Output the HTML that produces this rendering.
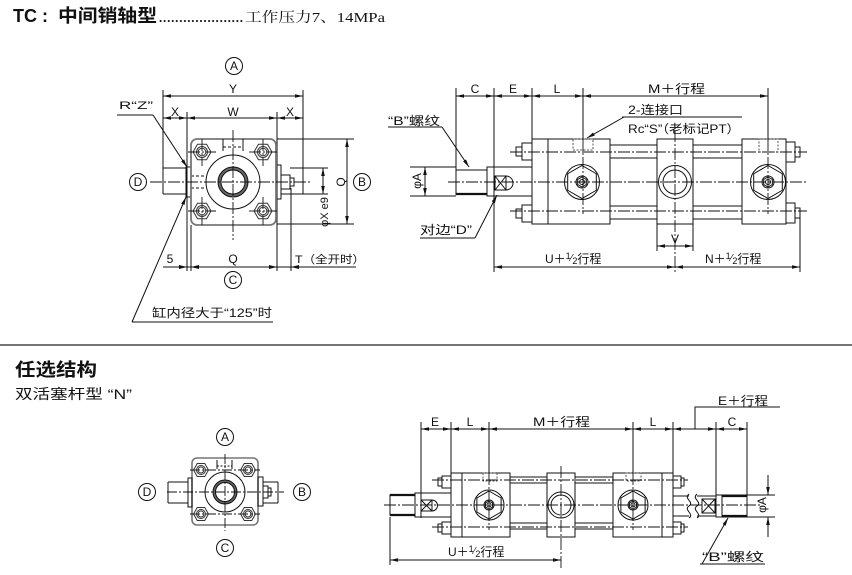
<!DOCTYPE html>
<html><head><meta charset="utf-8"><style>
html,body{margin:0;padding:0;background:#fff;}
svg{display:block;}
text{font-family:"Liberation Sans","Noto Sans CJK SC",sans-serif;fill:#111;stroke:none;}
.sf{font-family:"Liberation Serif","Noto Serif CJK SC",serif;}
</style></head><body>
<svg width="852" height="575" viewBox="0 0 852 575" xmlns="http://www.w3.org/2000/svg">
<defs>
<marker id="ar" viewBox="0 0 8 4" refX="8" refY="2" markerWidth="8" markerHeight="4" markerUnits="userSpaceOnUse" orient="auto-start-reverse"><path d="M0,0.2 L8,2 L0,3.8z" fill="#111"/></marker>
<g id="hx9" fill="none" stroke="#333"><polygon points="9,0 4.5,7.8 -4.5,7.8 -9,0 -4.5,-7.8 4.5,-7.8"/><circle r="5.5"/><circle r="3.8"/></g>
<g id="hx7" fill="none" stroke="#333"><polygon points="7.5,0 3.75,6.5 -3.75,6.5 -7.5,0 -3.75,-6.5 3.75,-6.5"/><circle r="4.5"/><circle r="3"/></g>
<g id="hxL" fill="none" stroke="#111"><circle r="17.5"/><polygon points="0,-16.5 14.3,-8.25 14.3,8.25 0,16.5 -14.3,8.25 -14.3,-8.25"/><circle r="6"/><polygon points="0,-5 4.33,-2.5 4.33,2.5 0,5 -4.33,2.5 -4.33,-2.5"/><circle r="2.5"/></g>
<g id="hxS" fill="none" stroke="#111"><circle r="15"/><polygon points="0,-14 12.12,-7 12.12,7 0,14 -12.12,7 -12.12,-7"/><circle r="5"/><polygon points="0,-4 3.46,-2 3.46,2 0,4 -3.46,2 -3.46,-2"/><circle r="2"/></g>
</defs>
<rect width="852" height="575" fill="#fff"/>

<!-- TITLE -->
<text x="13" y="22" font-size="18" font-weight="bold">TC</text>
<text x="42" y="22" font-size="18" font-weight="bold">:</text>
<text x="58" y="22" font-size="18" font-weight="bold" textLength="99" lengthAdjust="spacingAndGlyphs">中间销轴型</text>
<text x="159" y="22" font-size="13" font-weight="bold" style="font-family:'Liberation Serif',serif" textLength="84" lengthAdjust="spacing">.....................</text>
<text class="sf" x="245" y="22" font-size="14" textLength="140" lengthAdjust="spacingAndGlyphs">工作压力7、14MPa</text>

<!-- separator -->
<line x1="0" y1="345" x2="852" y2="345" stroke="#222" stroke-width="1.2"/>
<text x="15" y="376" font-size="18" font-weight="bold" textLength="82" lengthAdjust="spacingAndGlyphs">任选结构</text>
<text x="15" y="399" font-size="14" textLength="117" lengthAdjust="spacingAndGlyphs">双活塞杆型 “N”</text>

<!-- ========== TOP LEFT VIEW ========== -->
<g stroke="#111" fill="none" stroke-width="1">
  <circle cx="234" cy="66" r="8.5"/>
  <circle cx="362" cy="182" r="8.5"/>
  <circle cx="138" cy="182" r="8.5"/>
  <circle cx="233" cy="280" r="8.5"/>
  <line x1="163" y1="96" x2="303" y2="96" marker-start="url(#ar)" marker-end="url(#ar)"/>
  <line x1="163" y1="118" x2="187" y2="118" marker-start="url(#ar)" marker-end="url(#ar)"/>
  <line x1="187" y1="118" x2="277" y2="118" marker-start="url(#ar)" marker-end="url(#ar)"/>
  <line x1="277" y1="118" x2="303" y2="118" marker-start="url(#ar)" marker-end="url(#ar)"/>
  <line x1="163" y1="90" x2="163" y2="194"/>
  <line x1="303" y1="90" x2="303" y2="194"/>
  <line x1="187" y1="112" x2="187" y2="271"/>
  <line x1="277" y1="112" x2="277" y2="271"/>
  <line x1="191" y1="225" x2="191" y2="271"/>
  <line x1="291" y1="188" x2="291" y2="271"/>
  <line x1="163" y1="168" x2="186" y2="168"/>
  <line x1="163" y1="194" x2="186" y2="194"/>
  <rect x="186" y="167" width="5" height="30"/>
  <line x1="191" y1="176" x2="205" y2="176" stroke-dasharray="3 2"/>
  <line x1="191" y1="188" x2="205" y2="188" stroke-dasharray="3 2"/>
  <rect x="276" y="165" width="5" height="34"/>
  <rect x="281" y="175" width="9" height="14"/>
  <rect x="290" y="178" width="4" height="8"/>
  <line x1="290" y1="168" x2="328" y2="168"/>
  <line x1="281" y1="194" x2="328" y2="194"/>
  <rect x="191" y="139" width="85" height="86" rx="6" stroke="#777" stroke-width="1.8"/>
  <circle cx="233" cy="182" r="27"/>
  <circle cx="233" cy="182" r="13.5" stroke="#666" stroke-width="3"/>
  <circle cx="233" cy="182" r="15"/>
  <circle cx="233" cy="182" r="12"/>
  <line x1="223" y1="139" x2="223" y2="151"/>
  <line x1="243" y1="139" x2="243" y2="151"/>
  <line x1="223" y1="147" x2="243" y2="147" stroke-dasharray="3 2"/>
  <line x1="277" y1="139" x2="354" y2="139"/>
  <line x1="277" y1="224" x2="354" y2="224"/>
  <line x1="347" y1="139" x2="347" y2="224" marker-start="url(#ar)" marker-end="url(#ar)"/>
  <line x1="323" y1="168" x2="323" y2="194" marker-start="url(#ar)" marker-end="url(#ar)"/>
  <g stroke-dasharray="12 2 2 2" stroke-width="0.9">
    <line x1="150" y1="182" x2="312" y2="182"/>
    <line x1="233" y1="130" x2="233" y2="240"/>
    <line x1="188" y1="152" x2="216" y2="152"/><line x1="249" y1="152" x2="277" y2="152"/>
    <line x1="188" y1="211" x2="216" y2="211"/><line x1="249" y1="211" x2="277" y2="211"/>
    <line x1="202" y1="139" x2="202" y2="166"/><line x1="263" y1="139" x2="263" y2="166"/>
    <line x1="202" y1="197" x2="202" y2="225"/><line x1="263" y1="197" x2="263" y2="225"/>
  </g>
  <line x1="117" y1="115" x2="153" y2="115"/>
  <line x1="153" y1="115" x2="187" y2="167" marker-end="url(#ar)"/>
  <line x1="132" y1="322" x2="186" y2="197" marker-end="url(#ar)"/>
  <line x1="132" y1="322" x2="273" y2="322"/>
  <line x1="163" y1="267" x2="356" y2="267"/>
</g>
<use href="#hx9" x="202" y="152"/><use href="#hx9" x="263" y="152"/>
<use href="#hx9" x="202" y="211"/><use href="#hx9" x="263" y="211"/>
<g fill="#111">
  <path d="M179,265 L187,267 L179,269z"/><path d="M199,265 L191,267 L199,269z"/>
  <path d="M269,265 L277,267 L269,269z"/><path d="M299,265 L291,267 L299,269z"/>
</g>
<g font-size="12" text-anchor="middle">
  <text x="234" y="70">A</text><text x="362" y="186">B</text><text x="138" y="186">D</text><text x="233" y="284">C</text>
  <text x="233" y="93">Y</text>
  <text x="175" y="116">X</text><text x="233" y="116">W</text><text x="290" y="116">X</text>
  <text x="170" y="263">5</text><text x="233" y="263">Q</text>
  <text transform="translate(345,182) rotate(-90)">Q</text>
  <text transform="translate(328,212) rotate(-90)" font-size="11">φX e9</text>
</g>
<text x="119" y="109" font-size="11" textLength="34" lengthAdjust="spacingAndGlyphs">R“Z”</text>
<text x="295" y="263" font-size="11" textLength="70" lengthAdjust="spacingAndGlyphs">T（全开时）</text>
<text x="152" y="317" font-size="12" textLength="120" lengthAdjust="spacingAndGlyphs">缸内径大于“125”时</text>

<!-- ========== TOP RIGHT VIEW ========== -->
<g stroke="#111" fill="none" stroke-width="1">
  <line x1="456" y1="96" x2="494" y2="96" marker-start="url(#ar)" marker-end="url(#ar)"/>
  <line x1="494" y1="96" x2="532" y2="96" marker-start="url(#ar)" marker-end="url(#ar)"/>
  <line x1="532" y1="96" x2="583" y2="96" marker-start="url(#ar)" marker-end="url(#ar)"/>
  <line x1="583" y1="96" x2="768" y2="96" marker-start="url(#ar)" marker-end="url(#ar)"/>
  <line x1="456" y1="88" x2="456" y2="195"/>
  <line x1="494" y1="88" x2="494" y2="272"/>
  <line x1="532" y1="88" x2="532" y2="139"/>
  <line x1="583" y1="88" x2="583" y2="139"/>
  <line x1="768" y1="88" x2="768" y2="139"/>
  <line x1="800" y1="218" x2="800" y2="272"/>
  <rect x="532" y="139" width="78" height="85"/>
  <line x1="548" y1="139" x2="548" y2="224"/>
  <rect x="522" y="143" width="10" height="17"/>
  <rect x="522" y="205" width="10" height="17"/>
  <rect x="516" y="147" width="6" height="9"/>
  <rect x="516" y="209" width="6" height="9"/>
  <rect x="573" y="139" width="20" height="11" stroke-dasharray="2 1.5" stroke="#555"/>
  <line x1="610" y1="145" x2="657" y2="145"/><line x1="610" y1="158" x2="657" y2="158"/>
  <line x1="610" y1="206" x2="657" y2="206"/><line x1="610" y1="219" x2="657" y2="219"/>
  <line x1="693" y1="145" x2="742" y2="145"/><line x1="693" y1="158" x2="742" y2="158"/>
  <line x1="693" y1="206" x2="742" y2="206"/><line x1="693" y1="219" x2="742" y2="219"/>
  <rect x="657" y="139" width="36" height="85"/>
  <circle cx="675" cy="182" r="16.5"/>
  <circle cx="675" cy="182" r="12"/>
  <line x1="657" y1="224" x2="657" y2="251"/>
  <line x1="693" y1="224" x2="693" y2="251"/>
  <line x1="657" y1="246" x2="693" y2="246" marker-start="url(#ar)" marker-end="url(#ar)"/>
  <rect x="742" y="139" width="44" height="85"/>
  <rect x="786" y="142" width="9" height="20"/>
  <rect x="786" y="203" width="9" height="20"/>
  <rect x="795" y="147" width="5" height="10"/>
  <rect x="795" y="208" width="5" height="10"/>
  <rect x="759" y="139" width="19" height="13" stroke-dasharray="2 1.5" stroke="#555"/>
  <line x1="494" y1="167" x2="532" y2="167"/>
  <line x1="494" y1="196" x2="532" y2="196"/>
  <rect x="487" y="167" width="7" height="29"/>
  <rect x="456" y="170" width="31" height="24"/>
  <line x1="456" y1="194" x2="487" y2="194" stroke-width="2.2"/>
  <rect x="495" y="176" width="11" height="14"/>
  <line x1="495" y1="176" x2="506" y2="190"/><line x1="506" y1="176" x2="495" y2="190"/>
  <path d="M506,176 A7,7 0 0 1 506,190"/>
  <line x1="410" y1="167" x2="456" y2="167"/>
  <line x1="410" y1="196" x2="456" y2="196"/>
  <line x1="425" y1="167" x2="425" y2="196" marker-start="url(#ar)" marker-end="url(#ar)"/>
  <line x1="494" y1="267" x2="675" y2="267" marker-start="url(#ar)" marker-end="url(#ar)"/>
  <line x1="675" y1="267" x2="800" y2="267" marker-start="url(#ar)" marker-end="url(#ar)"/>
  <line x1="388" y1="127" x2="442" y2="127"/>
  <line x1="442" y1="127" x2="469" y2="167" marker-end="url(#ar)"/>
  <line x1="420" y1="238" x2="475" y2="238"/>
  <line x1="475" y1="238" x2="497" y2="195" marker-end="url(#ar)"/>
  <line x1="622" y1="117" x2="742" y2="117"/>
  <line x1="624" y1="117" x2="587" y2="138" marker-end="url(#ar)"/>
  <g stroke-dasharray="12 2 2 2" stroke-width="0.9">
    <line x1="448" y1="182" x2="807" y2="182"/>
    <line x1="510" y1="152" x2="807" y2="152"/>
    <line x1="510" y1="211" x2="807" y2="211"/>
    <line x1="583" y1="139" x2="583" y2="214"/>
    <line x1="768" y1="139" x2="768" y2="214"/>
    <line x1="675" y1="130" x2="675" y2="274"/>
  </g>
</g>
<use href="#hxL" x="582" y="182"/><use href="#hxL" x="768" y="182"/>
<g font-size="12" text-anchor="middle">
  <text x="475" y="93">C</text><text x="513" y="93">E</text><text x="557" y="93">L</text>
  <text x="675" y="243">V</text>
  <text transform="translate(421,181) rotate(-90)">φA</text>
</g>
<text x="648" y="93" font-size="12" textLength="57" lengthAdjust="spacingAndGlyphs">M＋行程</text>
<text x="628" y="114" font-size="12" textLength="55" lengthAdjust="spacingAndGlyphs">2-连接口</text>
<text x="628" y="133" font-size="12" textLength="112" lengthAdjust="spacingAndGlyphs">Rc“S”（老标记PT）</text>
<text x="388" y="125" font-size="12" textLength="52" lengthAdjust="spacingAndGlyphs">“B”螺纹</text>
<text x="420" y="234" font-size="12" textLength="52" lengthAdjust="spacingAndGlyphs">对边“D”</text>
<text x="545" y="263" font-size="12">U＋<tspan font-size="9" dy="-4">1</tspan><tspan font-size="10" dy="2">⁄</tspan><tspan font-size="9" dy="3">2</tspan><tspan dy="-1">行程</tspan></text>
<text x="705" y="263" font-size="12">N＋<tspan font-size="9" dy="-4">1</tspan><tspan font-size="10" dy="2">⁄</tspan><tspan font-size="9" dy="3">2</tspan><tspan dy="-1">行程</tspan></text>

<!-- ========== BOTTOM LEFT VIEW ========== -->
<g stroke="#111" fill="none" stroke-width="1">
  <circle cx="225" cy="437" r="8.5"/>
  <circle cx="225" cy="548" r="8.5"/>
  <circle cx="147" cy="492" r="8.5"/>
  <circle cx="302" cy="492" r="8.5"/>
  <rect x="192" y="458" width="66" height="67" rx="5" stroke="#777" stroke-width="1.6"/>
  <circle cx="225" cy="492" r="20"/>
  <circle cx="225" cy="492" r="10.8" stroke="#666" stroke-width="2.6"/>
  <circle cx="225" cy="492" r="12"/>
  <circle cx="225" cy="492" r="9.5"/>
  <line x1="217" y1="460" x2="217" y2="469"/><line x1="232" y1="460" x2="232" y2="469"/>
  <line x1="217" y1="466" x2="232" y2="466" stroke-dasharray="2 1.5"/>
  <line x1="168" y1="482" x2="188" y2="482"/><line x1="168" y1="503" x2="188" y2="503"/><line x1="168" y1="482" x2="168" y2="503"/>
  <rect x="188" y="478" width="4" height="29"/>
  <rect x="258" y="477" width="5" height="29"/>
  <rect x="263" y="486" width="5" height="12"/>
  <rect x="268" y="488" width="3" height="8"/>
  <line x1="263" y1="482" x2="278" y2="482"/><line x1="263" y1="503" x2="278" y2="503"/><line x1="278" y1="482" x2="278" y2="503"/>
  <g stroke-dasharray="10 2 2 2" stroke-width="0.9">
    <line x1="167" y1="492" x2="284" y2="492"/>
    <line x1="225" y1="454" x2="225" y2="531"/>
    <line x1="190" y1="470" x2="260" y2="470"/>
    <line x1="190" y1="514" x2="260" y2="514"/>
  </g>
</g>
<use href="#hx7" x="201" y="470"/><use href="#hx7" x="248" y="470"/>
<use href="#hx7" x="201" y="514"/><use href="#hx7" x="248" y="514"/>
<g font-size="12" text-anchor="middle">
  <text x="225" y="441">A</text><text x="225" y="552">C</text><text x="147" y="496">D</text><text x="302" y="496">B</text>
</g>

<!-- ========== BOTTOM RIGHT VIEW ========== -->
<g stroke="#111" fill="none" stroke-width="1">
  <line x1="421" y1="429" x2="451" y2="429" marker-start="url(#ar)" marker-end="url(#ar)"/>
  <line x1="451" y1="429" x2="489" y2="429" marker-start="url(#ar)" marker-end="url(#ar)"/>
  <line x1="489" y1="429" x2="633" y2="429" marker-start="url(#ar)" marker-end="url(#ar)"/>
  <line x1="633" y1="429" x2="673" y2="429" marker-start="url(#ar)" marker-end="url(#ar)"/>
  <line x1="673" y1="429" x2="716" y2="429" marker-start="url(#ar)" marker-end="url(#ar)"/>
  <line x1="716" y1="429" x2="747" y2="429" marker-start="url(#ar)" marker-end="url(#ar)"/>
  <polyline points="695,429 695,407 780,407"/>
  <line x1="421" y1="422" x2="421" y2="518"/>
  <line x1="451" y1="422" x2="451" y2="473"/>
  <line x1="489" y1="422" x2="489" y2="473"/>
  <line x1="633" y1="422" x2="633" y2="473"/>
  <line x1="673" y1="422" x2="673" y2="473"/>
  <line x1="716" y1="422" x2="716" y2="517"/>
  <line x1="747" y1="422" x2="747" y2="517"/>
  <rect x="451" y="473" width="59" height="64"/>
  <line x1="462" y1="473" x2="462" y2="537"/>
  <rect x="442" y="476" width="9" height="12"/>
  <rect x="442" y="522" width="9" height="12"/>
  <rect x="438" y="478" width="4" height="8"/>
  <rect x="438" y="524" width="4" height="8"/>
  <rect x="483" y="473" width="14" height="8" stroke-dasharray="2 1.5" stroke="#555"/>
  <line x1="510" y1="477" x2="547" y2="477"/><line x1="510" y1="483" x2="547" y2="483"/>
  <line x1="510" y1="523" x2="547" y2="523"/><line x1="510" y1="529" x2="547" y2="529"/>
  <line x1="575" y1="477" x2="613" y2="477"/><line x1="575" y1="483" x2="613" y2="483"/>
  <line x1="575" y1="523" x2="613" y2="523"/><line x1="575" y1="529" x2="613" y2="529"/>
  <rect x="547" y="473" width="28" height="64"/>
  <circle cx="561" cy="505" r="13"/>
  <circle cx="561" cy="505" r="10"/>
  <rect x="613" y="473" width="60" height="64"/>
  <line x1="662" y1="473" x2="662" y2="537"/>
  <rect x="673" y="476" width="8" height="12"/>
  <rect x="673" y="522" width="8" height="12"/>
  <rect x="681" y="478" width="3" height="8"/>
  <rect x="681" y="524" width="3" height="8"/>
  <rect x="626" y="473" width="15" height="8" stroke-dasharray="2 1.5" stroke="#555"/>
  <rect x="390" y="495" width="25" height="20"/>
  <line x1="390" y1="495" x2="415" y2="495" stroke-width="2.2"/>
  <line x1="390" y1="515" x2="415" y2="515" stroke-width="2.2"/>
  <rect x="415" y="493" width="6" height="24"/>
  <line x1="421" y1="493" x2="451" y2="493"/><line x1="421" y1="517" x2="451" y2="517"/>
  <rect x="421" y="500" width="11" height="11"/>
  <line x1="421" y1="500" x2="432" y2="511"/><line x1="432" y1="500" x2="421" y2="511"/>
  <path d="M432,500 A5.5,5.5 0 0 1 432,511"/>
  <line x1="673" y1="496" x2="689" y2="496"/><line x1="673" y1="516" x2="689" y2="516"/>
  <line x1="697" y1="496" x2="716" y2="496"/><line x1="697" y1="516" x2="716" y2="516"/>
  <path d="M689,494 C683,499 695,502 689,506 C683,510 695,514 689,518"/>
  <path d="M697,494 C691,499 703,502 697,506 C691,510 703,514 697,518"/>
  <rect x="702" y="499" width="13" height="14"/>
  <line x1="702" y1="499" x2="715" y2="513"/><line x1="715" y1="499" x2="702" y2="513"/>
  <rect x="716" y="495" width="6" height="22"/>
  <rect x="722" y="495" width="25" height="22"/>
  <line x1="722" y1="496" x2="747" y2="496" stroke-width="2.2"/>
  <line x1="722" y1="516" x2="747" y2="516" stroke-width="2.2"/>
  <line x1="747" y1="495" x2="775" y2="495"/>
  <line x1="747" y1="517" x2="775" y2="517"/>
  <line x1="768" y1="475" x2="768" y2="495" marker-end="url(#ar)"/>
  <line x1="768" y1="537" x2="768" y2="517" marker-end="url(#ar)"/>
  <line x1="700" y1="564" x2="765" y2="564"/>
  <line x1="702" y1="564" x2="728" y2="518" marker-end="url(#ar)"/>
  <line x1="390" y1="517" x2="390" y2="565"/>
  <line x1="390" y1="560" x2="561" y2="560" marker-start="url(#ar)" marker-end="url(#ar)"/>
  <g stroke-dasharray="12 2 2 2" stroke-width="0.9">
    <line x1="384" y1="505" x2="760" y2="505"/>
    <line x1="432" y1="480" x2="688" y2="480"/>
    <line x1="432" y1="527" x2="688" y2="527"/>
    <line x1="489" y1="473" x2="489" y2="530"/>
    <line x1="633" y1="473" x2="633" y2="530"/>
    <line x1="561" y1="466" x2="561" y2="568"/>
  </g>
</g>
<use href="#hxS" x="489" y="505"/><use href="#hxS" x="633" y="505"/>
<g font-size="12" text-anchor="middle">
  <text x="435" y="426">E</text><text x="470" y="426">L</text><text x="653" y="426">L</text><text x="732" y="426">C</text>
  <text transform="translate(766,505) rotate(-90)">φA</text>
</g>
<text x="533" y="426" font-size="12" textLength="57" lengthAdjust="spacingAndGlyphs">M＋行程</text>
<text x="718" y="405" font-size="12" textLength="50" lengthAdjust="spacingAndGlyphs">E＋行程</text>
<text x="702" y="561" font-size="12" textLength="62" lengthAdjust="spacingAndGlyphs">“B”螺纹</text>
<text x="448" y="556" font-size="12">U＋<tspan font-size="9" dy="-4">1</tspan><tspan font-size="10" dy="2">⁄</tspan><tspan font-size="9" dy="3">2</tspan><tspan dy="-1">行程</tspan></text>
</svg>
</body></html>
